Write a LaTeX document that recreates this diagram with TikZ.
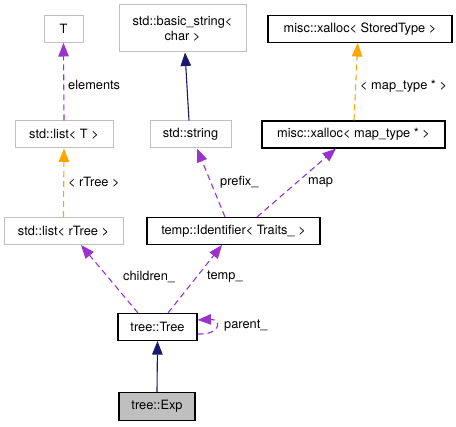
\documentclass[tikz,border=0pt]{standalone}
\usepackage{fontspec}
\setmainfont{TeX Gyre Heros}
\usetikzlibrary{arrows.meta}
\definecolor{usecol}{HTML}{9A32CD}
\definecolor{tplcol}{HTML}{FFA500}
\definecolor{inhcol}{HTML}{191970}
\definecolor{greyline}{HTML}{BFBFBF}
\begin{document}
\begin{tikzpicture}[x=1pt,y=-1pt,
  every node/.style={font=\fontsize{12.8}{15}\selectfont, inner sep=0pt},
  extbox/.style={draw=greyline, line width=1pt, fill=white, minimum height=27pt, align=center},
  docbox/.style={draw=black, line width=1.1pt, fill=white, minimum height=27pt, align=center},
  curbox/.style={draw=black, line width=1.1pt, fill=greyline, minimum height=28pt, align=center},
  usage/.style={draw=usecol, line width=1.1pt, dash pattern=on 6pt off 4pt, -{Triangle[length=13.5pt,width=10.5pt]}},
  tmpl/.style={draw=tplcol, line width=1.1pt, dash pattern=on 6pt off 4pt, -{Triangle[length=13.5pt,width=10.5pt]}},
  inherit/.style={draw=inhcol, line width=1.1pt, -{Triangle[length=13.5pt,width=10.5pt]}},
  lbl/.style={fill=none}]
\useasboundingbox (0,0) rectangle (456,427);
% nodes
\node[extbox, minimum width=39pt] (T) at (63.5,29) {T};
\node[extbox, minimum width=127pt, minimum height=47pt] (bs) at (182.5,28.5) {std::basic\_string\textless\\char \textgreater};
\node[docbox, minimum width=184pt] (stored) at (360,29) {misc::xalloc\textless{} StoredType \textgreater};
\node[extbox, minimum width=98pt] (listT) at (64,134.5) {std::list\textless{} T \textgreater};
\node[extbox, minimum width=81pt] (string) at (190.5,134.5) {std::string};
\node[docbox, minimum width=183pt] (xmap) at (353.5,134.5) {misc::xalloc\textless{} map\_type * \textgreater};
\node[extbox, minimum width=119pt] (listR) at (63.5,231) {std::list\textless{} rTree \textgreater};
\node[docbox, minimum width=173pt] (ident) at (233.5,231) {temp::Identifier\textless{} Traits\_ \textgreater};
\node[docbox, minimum width=79pt] (tree) at (157.5,327) {tree::Tree};
\node[curbox, minimum width=76pt] (exp) at (157,406.5) {tree::Exp};
% edges
\draw[usage] (listT.north) -- (T.south);
\node[lbl, anchor=west] (lelem) at (68,85) {elements};
\draw[tmpl] (listR.north) -- (listT.south);
\node[lbl, anchor=west] (lrtree) at (68,182) {\textless{} rTree \textgreater};
\draw[inherit] ([xshift=-1.5pt]string.north) -- ([xshift=2.5pt]bs.south);
\draw[tmpl] ([xshift=0.5pt]xmap.north) -- ([xshift=-2.3pt]stored.south);
\node[lbl, anchor=west] (lmapt) at (360,86) {\textless{} map\_type * \textgreater};
\draw[usage] ([xshift=-8.5pt]ident.north) -- ([xshift=6.5pt]string.south);
\node[lbl, anchor=west] (lprefix) at (220,182) {prefix\_};
\draw[usage] ([xshift=23.5pt]ident.north) -- ([xshift=-17.5pt]xmap.south);
\node[lbl, anchor=west] (lmap) at (308,182) {map};
\draw[usage] ([xshift=-19.5pt]tree.north) -- ([xshift=17.5pt]listR.south);
\node[lbl, anchor=west] (lchild) at (123,277) {children\_};
\draw[usage] ([xshift=10.5pt]tree.north) -- ([xshift=-11.5pt]ident.south);
\node[lbl, anchor=west] (ltemp) at (207,277) {temp\_};
\draw[usage] ([yshift=-7pt]tree.east) .. controls +(24,1) and +(24,-1) .. ([yshift=7pt]tree.east);
\node[lbl, anchor=west] (lparent) at (224,326) {parent\_};
\draw[inherit] (exp.north) -- (tree.south);
\end{tikzpicture}
\end{document}
